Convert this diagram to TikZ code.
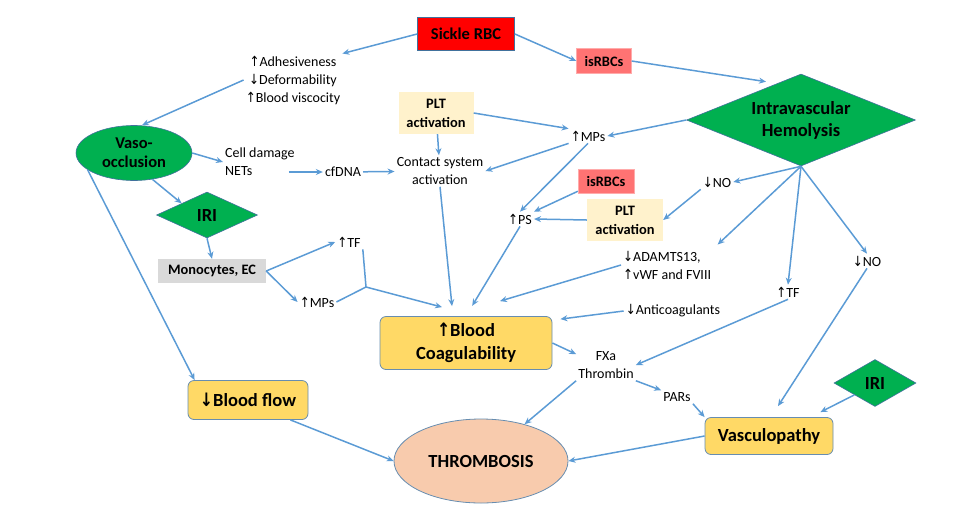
\documentclass[tikz,border=0pt]{standalone}
\usepackage{fontspec}
\setmainfont{Carlito}
\newfontfamily\arrowfont{DejaVu Sans}
\usetikzlibrary{arrows.meta, shapes.geometric, calc}
\definecolor{linkblue}{HTML}{5B9BD5}
\definecolor{edgeblue}{HTML}{41719C}
\definecolor{vgreen}{HTML}{00B050}
\definecolor{rbcred}{HTML}{FF0000}
\definecolor{isred}{HTML}{FF7373}
\definecolor{pltcream}{HTML}{FFF2CC}
\definecolor{monogray}{HTML}{D9D9D9}
\definecolor{gold}{HTML}{FFD966}
\definecolor{peach}{HTML}{F8CBAD}
\newcommand{\up}{\scalebox{0.85}[1]{{\arrowfont ↑}}}
\newcommand{\dn}{\scalebox{0.85}[1]{{\arrowfont ↓}}}

\begin{document}
\begin{tikzpicture}[
  x=1pt, y=-1pt,
  every node/.style={font=\fontsize{14}{18}\selectfont, inner sep=2pt, align=center},
  arrow/.style={-{Stealth[length=7pt,width=6pt]}, line width=1.5pt, draw=linkblue},
  joinline/.style={line width=1.5pt, draw=linkblue},
  rbcbox/.style={rectangle, draw=edgeblue, line width=0.8pt, fill=rbcred, minimum width=97pt, minimum height=33pt, font=\fontsize{16.5}{19}\selectfont\bfseries},
  isbox/.style={rectangle, draw=isred!60, fill=isred, minimum width=55pt, minimum height=25pt, font=\fontsize{14.4}{17}\selectfont\bfseries},
  pltbox/.style={rectangle, fill=pltcream, minimum width=75pt, minimum height=42pt, font=\fontsize{14.4}{19}\selectfont\bfseries},
  monobox/.style={rectangle, fill=monogray, minimum width=108pt, minimum height=24pt, font=\fontsize{14.4}{17}\selectfont\bfseries},
  greenshape/.style={fill=vgreen, draw=edgeblue, line width=0.6pt, inner sep=0pt},
  goldbox/.style={rectangle, rounded corners=6pt, draw=edgeblue!80, line width=0.8pt, fill=gold, font=\fontsize{18.5}{23}\selectfont\bfseries},
]
  \useasboundingbox (0,0) rectangle (974,520);

  \node[rbcbox] (sickle) at (466,34) {Sickle RBC};
  \node[isbox] (isrbcA) at (604,61) {isRBCs};
  \node[greenshape, diamond, aspect=2.5, minimum width=229pt, minimum height=92pt, font=\fontsize{18.5}{22}\selectfont\bfseries] (hemo) at (801,120) {Intravascular\\Hemolysis};
  \node (adh) at (293,80) {\up Adhesiveness\\\dn Deformability\\\up Blood viscocity};
  \node[greenshape, ellipse, minimum width=116pt, minimum height=55pt, font=\fontsize{16.5}{19}\selectfont\bfseries] (vaso) at (134,153) {Vaso-\\occlusion};
  \node[pltbox] (pltA) at (436,113) {PLT\\activation};
  \node (mpsA) at (588,136) {\up MPs};
  \node[anchor=west, align=left] (cell) at (223,162) {Cell damage\\NETs};
  \node (cfdna) at (343,172) {cfDNA};
  \node (contact) at (440,171) {Contact system\\activation};
  \node[greenshape, diamond, aspect=2, minimum width=101pt, minimum height=46pt, font=\fontsize{18.5}{22}\selectfont\bfseries] (iriA) at (207,215) {IRI};
  \node (noA) at (717,182) {\dn NO};
  \node[isbox, minimum width=56pt, minimum height=24pt] (isrbcB) at (606,181) {isRBCs};
  \node[pltbox, minimum width=76pt] (pltB) at (625,220) {PLT\\activation};
  \node (ps) at (520,219) {\up PS};
  \node (tfA) at (349,242) {\up TF};
  \node[monobox] (mono) at (212,271) {Monocytes, EC};
  \node (mpsB) at (317,302) {\up MPs};
  \node[anchor=west, align=left] (adam) at (621,265) {\dn ADAMTS13,\\\up vWF and FVIII};
  \node (anticoag) at (673,311) {\dn Anticoagulants};
  \node (tfB) at (788,292) {\up TF};
  \node (noB) at (867,261) {\dn NO};
  \node[goldbox, minimum width=172pt, minimum height=53pt] (coag) at (466,343) {\up Blood\\Coagulability};
  \node (fxa) at (606,365) {FXa\\Thrombin};
  \node (pars) at (677,397) {PARs};
  \node[goldbox, minimum width=120pt, minimum height=39pt] (bflow) at (248,400) {\dn Blood flow};
  \node[ellipse, draw=edgeblue!80, line width=0.8pt, fill=peach, minimum width=174pt, minimum height=84pt, font=\fontsize{18.5}{22}\selectfont\bfseries] (thromb) at (481,461) {THROMBOSIS};
  \node[goldbox, minimum width=128pt, minimum height=37pt] (vasc) at (769,436) {Vasculopathy};
  \node[greenshape, diamond, aspect=2, minimum width=82pt, minimum height=47pt, font=\fontsize{18.5}{22}\selectfont\bfseries] (iriB) at (875,383) {IRI};

  \draw[arrow] (sickle.west) -- (adh.north east);
  \draw[arrow] (sickle.east) -- (isrbcA.west);
  \draw[arrow] (isrbcA.east) -- ([xshift=-35pt,yshift=-8pt]hemo.north);
  \draw[arrow] (adh.west) -- ([xshift=8pt]vaso.north);
  \draw[arrow] (vaso.east) -- (cell.west);
  \draw[arrow] (vaso.-55) -- (iriA.north west);
  \draw[arrow] (vaso.200) -- ([xshift=7pt]bflow.north west);
  \draw[arrow] ([xshift=-8pt]cell.east |- cfdna) -- (cfdna);
  \draw[arrow] (cfdna) -- (contact);
  \draw[arrow] (pltA) -- (contact);
  \draw[arrow] (pltA.east) -- (mpsA.north west);
  \draw[arrow] (hemo.west) -- (mpsA.east);
  \draw[arrow] (mpsA.south west) -- (contact.east);
  \draw[arrow] (mpsA.south) -- (ps.north);
  \draw[arrow] (isrbcB.200) -- (ps.north east);
  \draw[arrow] (pltB.west) -- (ps.east);
  \draw[arrow] (noA.south west) -- (pltB.east);
  \draw[arrow] (hemo.south) -- (noA.east);
  \draw[arrow, shorten >=6pt] (hemo.south) -- (adam.north east);
  \draw[arrow] (hemo.south) -- (tfB.north);
  \draw[arrow] (hemo.south) -- (noB.north);
  \draw[arrow] (iriA.south) -- (mono.north);
  \draw[arrow] (mono.east) -- (tfA.west);
  \draw[arrow] (mono.east) -- (mpsB.west);

  \coordinate (join) at (366,287);
  \draw[joinline] (tfA.south east) -- (join) (mpsB.east) -- (join);
  \draw[arrow] (join) -- ([xshift=-24pt,yshift=9pt]coag.north);
  \draw[arrow, shorten >=10pt] (contact.south) -- ([xshift=-13pt]coag.north);
  \draw[arrow, shorten >=12pt] (ps.south) -- (coag.north);
  \draw[arrow] (adam.west) -- ([xshift=34pt,yshift=15pt]coag.north);
  \draw[arrow] (anticoag.west) -- ([xshift=8pt,yshift=-3pt]coag.north east);
  \draw[arrow] (coag.east) -- (fxa.160);
  \draw[arrow] (tfB.south) -- (fxa.east);
  \draw[arrow] (fxa.south east) -- (pars.north west);
  \draw[arrow] (fxa.south west) -- (thromb);
  \draw[arrow] (pars.south east) -- (vasc.north west);
  \draw[arrow] (noB.south) -- ([xshift=9pt,yshift=11pt]vasc.north);
  \draw[arrow] (iriB.south west) -- ([xshift=-13pt,yshift=5pt]vasc.north east);
  \draw[arrow] ([xshift=-18pt]bflow.south east) -- (thromb.west);
  \draw[arrow] (vasc.west) -- (thromb.east);
\end{tikzpicture}
\end{document}
